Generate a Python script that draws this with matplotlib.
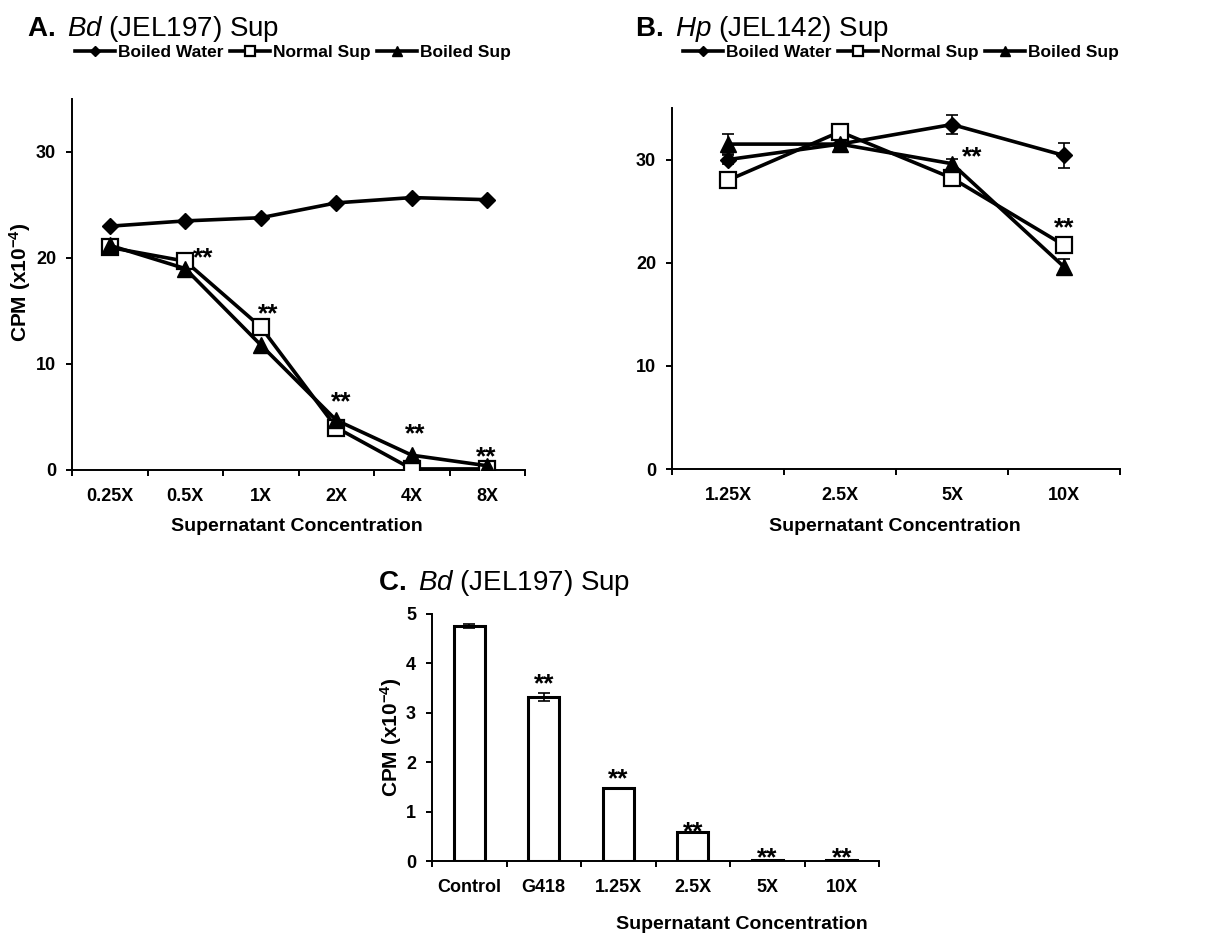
import matplotlib
matplotlib.use("Agg")
import matplotlib.pyplot as plt
import numpy as np

plt.rcParams['font.family'] = ['Liberation Sans', 'DejaVu Sans']
plt.rcParams['mathtext.fontset'] = 'custom'
plt.rcParams['mathtext.rm'] = 'Liberation Sans'
plt.rcParams['mathtext.it'] = 'Liberation Sans:italic'
plt.rcParams['mathtext.bf'] = 'Liberation Sans:bold'

# ---------------- Data ----------------
series_names = ["Boiled Water", "Normal Sup", "Boiled Sup"]

a_categories = ["0.25X", "0.5X", "1X", "2X", "4X", "8X"]
a_boiled_water = [23.0, 23.5, 23.8, 25.2, 25.7, 25.5]
a_normal_sup = [21.0, 19.7, 13.5, 4.0, 0.1, 0.1]
a_boiled_sup = [21.2, 19.0, 11.8, 4.7, 1.4, 0.4]
a_star_idx = [1, 2, 3, 4, 5]
a_star_y = [19.35, 14.0, 5.7, 2.7, 0.5]

b_categories = ["1.25X", "2.5X", "5X", "10X"]
b_boiled_water = [30.0, 31.5, 33.4, 30.4]
b_boiled_water_err = [0.4, 0.4, 0.9, 1.2]
b_normal_sup = [28.0, 32.7, 28.2, 21.7]
b_normal_sup_err = [0.3, 0.3, 0.4, 0.5]
b_boiled_sup = [31.5, 31.5, 29.6, 19.6]
b_boiled_sup_err = [1.0, 0.7, 0.5, 0.8]
b_star_idx = [2, 3]
b_star_y = [29.5, 22.7]

c_categories = ["Control", "G418", "1.25X", "2.5X", "5X", "10X"]
c_values = [4.75, 3.32, 1.48, 0.59, 0.03, 0.03]
c_err = [0.04, 0.08, 0.0, 0.0, 0.0, 0.0]
c_star_idx = [1, 2, 3, 4, 5]
c_star_y = [3.43, 1.51, 0.43, -0.08, -0.08]

# ---------------- Figure ----------------
W, H = 1226, 939
fig = plt.figure(figsize=(W / 100, H / 100), dpi=100)


def px_axes(left, top, right, bottom):
    return fig.add_axes([left / W, 1 - bottom / H, (right - left) / W, (bottom - top) / H])


axA = px_axes(72, 99, 525, 470)
axB = px_axes(672, 108, 1120, 469)
axC = px_axes(432, 614, 879, 861)

TICK_FS = 13
LBL_FS = 14
STAR_FS = 19
LW = 2.6


def style_axis(ax, ncat, ymax, yticks):
    for s in ['top', 'right']:
        ax.spines[s].set_visible(False)
    for s in ['left', 'bottom']:
        ax.spines[s].set_linewidth(1.4)
    ax.set_xlim(-0.5, ncat - 0.5)
    ax.set_ylim(0, ymax)
    ax.set_yticks(yticks)
    ax.set_xticks(np.arange(-0.5, ncat, 1.0))
    ax.set_xticklabels([])
    ax.tick_params(axis='both', which='major', direction='out', length=4.5, width=1.4,
                   labelsize=TICK_FS)
    ax.tick_params(axis='y', pad=7)
    for lab in ax.get_yticklabels():
        lab.set_fontweight('bold')


def set_cat_labels(ax, cats):
    ax.set_xticks(np.arange(len(cats)), minor=True)
    ax.set_xticklabels(cats, minor=True, fontsize=TICK_FS, fontweight='bold')
    ax.tick_params(axis='x', which='minor', length=0, pad=13)


def plot_lines(ax, xs, ys_list, errs_list):
    styles = [dict(marker='D', ms=8.5, mfc='black', mec='black'),
              dict(marker='s', ms=11, mfc='white', mec='black', mew=1.6),
              dict(marker='^', ms=11.5, mfc='black', mec='black')]
    handles = []
    for ys, errs, st, name in zip(ys_list, errs_list, styles, series_names):
        if errs is not None:
            ax.errorbar(xs, ys, yerr=errs, fmt='none', ecolor='black', elinewidth=1.2,
                        capsize=4, capthick=1.2, zorder=2)
        h, = ax.plot(xs, ys, color='black', lw=LW, label=name, zorder=3, **st)
        handles.append(h)
    return handles


def stars(ax, xs, idx, ys, dxs):
    for i, y, dx in zip(idx, ys, dxs):
        ax.text(xs[i] + dx, y, "**", ha='center', va='baseline', fontsize=STAR_FS,
                fontweight='bold', zorder=5)


# ---- Panel A ----
xa = np.arange(len(a_categories))
style_axis(axA, len(a_categories), 35, [0, 10, 20, 30])
set_cat_labels(axA, a_categories)
hA = plot_lines(axA, xa, [a_boiled_water, a_normal_sup, a_boiled_sup], [None, None, None])
stars(axA, xa, a_star_idx, a_star_y, [0.24, 0.1, 0.07, 0.05, -0.02])
axA.set_xlabel("Supernatant Concentration", fontsize=LBL_FS, fontweight='bold')
axA.xaxis.set_label_coords(0.497, -0.153)
axA.xaxis.label.set_va('center')
axA.set_ylabel(r"CPM (x10$^{\mathbf{-4}}$)", fontsize=15, fontweight='bold')
axA.yaxis.set_label_coords(-0.115, 0.505)
axA.yaxis.label.set_va('center')

# ---- Panel B ----
xb = np.arange(len(b_categories))
style_axis(axB, len(b_categories), 35, [0, 10, 20, 30])
set_cat_labels(axB, b_categories)
hB = plot_lines(axB, xb, [b_boiled_water, b_normal_sup, b_boiled_sup],
                [b_boiled_water_err, b_normal_sup_err, b_boiled_sup_err])
stars(axB, xb, b_star_idx, b_star_y, [0.18, 0.0])
axB.set_xlabel("Supernatant Concentration", fontsize=LBL_FS, fontweight='bold')
axB.xaxis.set_label_coords(0.497, -0.16)
axB.xaxis.label.set_va('center')

# ---- Panel C ----
xc = np.arange(len(c_categories))
style_axis(axC, len(c_categories), 5, [0, 1, 2, 3, 4, 5])
set_cat_labels(axC, c_categories)
axC.bar(xc, c_values, width=0.42, color='white', edgecolor='black', linewidth=2.2, zorder=2)
axC.errorbar(xc[:2], c_values[:2], yerr=c_err[:2], fmt='none', ecolor='black', elinewidth=1.2,
             capsize=4, capthick=1.2, zorder=3)
stars(axC, xc, c_star_idx, c_star_y, [0, 0, 0, 0, 0])
axC.set_xlabel("Supernatant Concentration", fontsize=LBL_FS, fontweight='bold')
axC.xaxis.set_label_coords(0.694, -0.259)
axC.xaxis.label.set_va('center')
axC.set_ylabel(r"CPM (x10$^{\mathbf{-4}}$)", fontsize=15, fontweight='bold')
axC.yaxis.set_label_coords(-0.092, 0.5)
axC.yaxis.label.set_va('center')

# ---- Legends ----
for handles, cx in [(hA, 293 / W), (hB, 901 / W)]:
    fig.legend(handles=handles, labels=series_names, loc='center', bbox_to_anchor=(cx, 1 - 52 / H),
               ncol=3, frameon=False, prop={'weight': 'bold', 'size': 12.5},
               handlelength=2.3, handletextpad=0.15, columnspacing=0.4, markerscale=0.6,
               borderaxespad=0, borderpad=0)

# ---- Titles ----
fig.text(27 / W, 1 - 36 / H, r"$\mathbf{A.}$ $\mathit{Bd}$ (JEL197) Sup", fontsize=20,
         ha='left', va='baseline')
fig.text(635 / W, 1 - 36 / H, r"$\mathbf{B.}$ $\mathit{Hp}$ (JEL142) Sup", fontsize=20,
         ha='left', va='baseline')
fig.text(378 / W, 1 - 590 / H, r"$\mathbf{C.}$ $\mathit{Bd}$ (JEL197) Sup", fontsize=20,
         ha='left', va='baseline')

fig.savefig("out.png", dpi=100)
